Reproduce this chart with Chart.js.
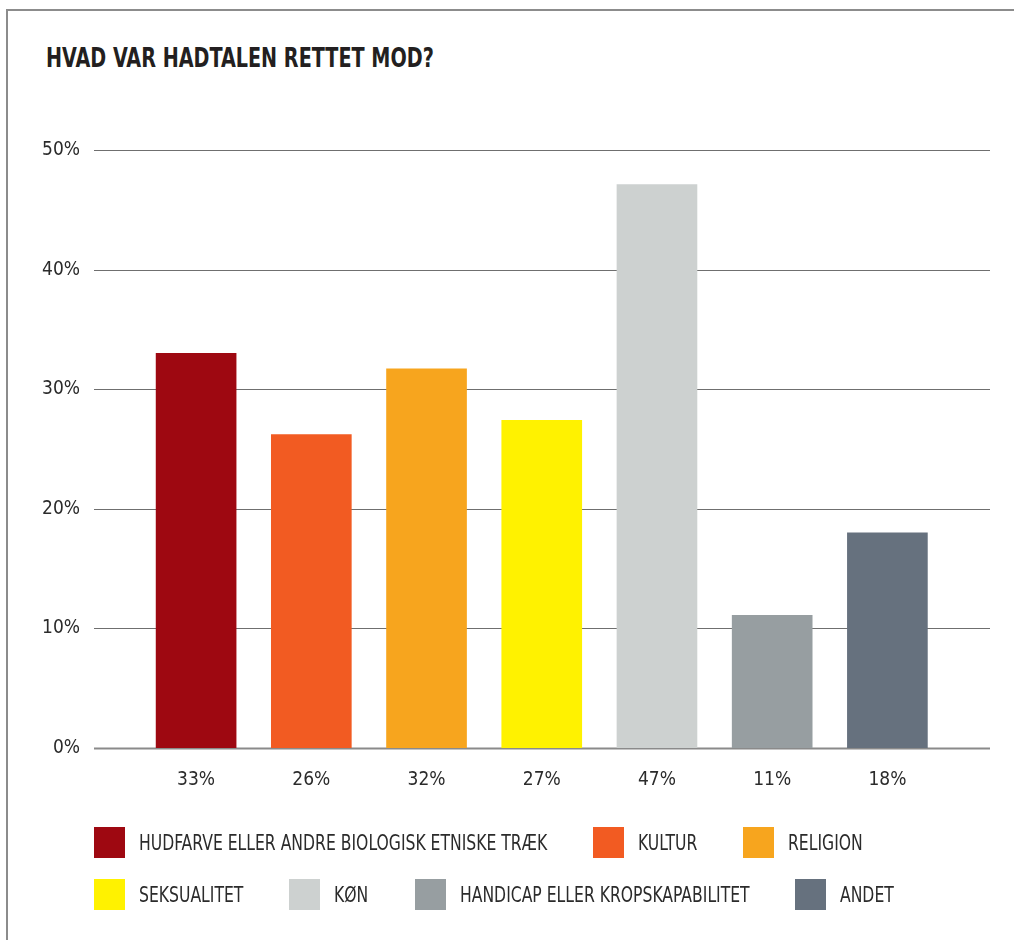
<!DOCTYPE html>
<html>
<head>
<meta charset="utf-8">
<script src="https://cdn.jsdelivr.net/npm/chart.js@4/dist/chart.umd.min.js"></script>
<style>
  html, body { margin: 0; padding: 0; background: #fff; }
  body { width: 1014px; height: 940px; position: relative; overflow: hidden;
         font-family: "Liberation Sans Narrow", "DejaVu Sans Condensed", "Roboto Condensed", sans-serif; color: #2b2b2b; }
  #frame { position: absolute; left: 6px; top: 9px; right: -10px; bottom: -10px;
           border-left: 2px solid #8c8c8c; border-top: 2px solid #8c8c8c; }
  #title { position: absolute; left: 46px; top: 42px; margin: 0; font-size: 27px; font-weight: bold;
           color: #231f20; white-space: nowrap; transform: scaleX(0.79); transform-origin: left center; }
  #wrap { position: absolute; left: 0; top: 0; width: 1014px; height: 940px; }
  #legend { position: absolute; left: 94px; top: 827px; width: 900px; }
  .row { display: flex; align-items: center; height: 31px; margin-bottom: 21px; }
  .item { display: flex; align-items: center; margin-right: 46px; }
  .box { width: 31px; height: 31px; margin-right: 14px; flex: none; }
  .lbl { font-size: 21px; color: #2b2b2b; white-space: nowrap; display: inline-block; transform-origin: left center; }
</style>
</head>
<body>
<div id="frame"></div>
<h1 id="title">HVAD VAR HADTALEN RETTET MOD?</h1>
<div id="wrap"><canvas id="grafico" width="1014" height="940"></canvas></div>
<div id="legend"></div>
<script>
const kategorier = ['HUDFARVE ELLER ANDRE BIOLOGISK ETNISKE TRÆK', 'KULTUR', 'RELIGION', 'SEKSUALITET', 'KØN', 'HANDICAP ELLER KROPSKAPABILITET', 'ANDET'];
const andele = [33.0, 26.2, 31.7, 27.4, 47.1, 11.1, 18.0];
const tickLabels = ['33%', '26%', '32%', '27%', '47%', '11%', '18%'];
const farver = ['#9e0811', '#f25b22', '#f7a51e', '#fff200', '#cdd1d0', '#979ea1', '#66717e'];
const yTicks = [0, 10, 20, 30, 40, 50];
const legendRows = [[0, 1, 2], [3, 4, 5, 6]];

const fontFam = '"Liberation Sans Narrow", "DejaVu Sans Condensed", "Roboto Condensed", sans-serif';
const smal = 0.827; // squeeze legend text to a condensed look

// gridlines run wider than the bar area
const breddeGitter = {
  id: 'breddeGitter',
  beforeDatasetsDraw(chart) {
    const ctx = chart.ctx;
    const y = chart.scales.y;
    ctx.save();
    yTicks.forEach(v => {
      const py = Math.round(y.getPixelForValue(v)) + 0.5;
      ctx.lineWidth = v === 0 ? 2 : 1.2;
      ctx.strokeStyle = v === 0 ? '#8a8a8a' : '#6f6f6f';
      ctx.beginPath();
      ctx.moveTo(94, py);
      ctx.lineTo(990, py);
      ctx.stroke();
    });
    ctx.restore();
  }
};

function generarGrafico() {
  const ctx = document.getElementById('grafico').getContext('2d');
  new Chart(ctx, {
    type: 'bar',
    data: {
      labels: kategorier,
      datasets: [{
        data: andele,
        backgroundColor: farver,
        borderWidth: 0,
        barThickness: 80
      }]
    },
    options: {
      responsive: false,
      animation: false,
      layout: { padding: { left: 0, right: 69, top: 150, bottom: 132 } },
      plugins: {
        legend: { display: false },
        title: { display: false },
        tooltip: { enabled: false }
      },
      scales: {
        x: {
          grid: { display: false, drawTicks: false },
          border: { display: false },
          afterFit(scale) { scale.height = 60; },
          ticks: {
            padding: 21,
            color: '#2b2b2b',
            font: { family: fontFam, size: 19 },
            maxRotation: 0,
            autoSkip: false,
            callback: (v, i) => tickLabels[i]
          }
        },
        y: {
          min: 0,
          max: 50,
          grid: { display: false, drawTicks: false },
          border: { display: false },
          afterFit(scale) { scale.width = 138.5; },
          ticks: {
            stepSize: 10,
            padding: 58.5,
            color: '#2b2b2b',
            font: { family: fontFam, size: 19 },
            callback: v => v + '%'
          }
        }
      }
    },
    plugins: [breddeGitter]
  });

  const legend = document.getElementById('legend');
  legendRows.forEach(row => {
    const r = document.createElement('div');
    r.className = 'row';
    row.forEach(i => {
      const it = document.createElement('div');
      it.className = 'item';
      const b = document.createElement('div');
      b.className = 'box';
      b.style.background = farver[i];
      const t = document.createElement('span');
      t.className = 'lbl';
      t.textContent = kategorier[i];
      it.appendChild(b);
      it.appendChild(t);
      r.appendChild(it);
    });
    legend.appendChild(r);
  });
  document.querySelectorAll('.lbl').forEach(t => {
    const w = t.offsetWidth;
    t.style.transform = 'scaleX(' + smal + ')';
    t.style.marginRight = (-(w * (1 - smal))) + 'px';
  });
}

document.addEventListener('DOMContentLoaded', generarGrafico);
</script>
</body>
</html>
